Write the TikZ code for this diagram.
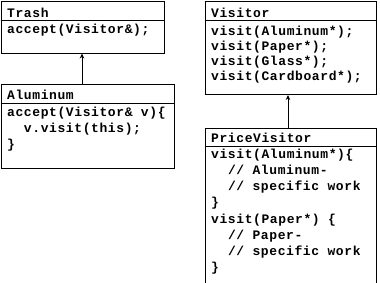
\documentclass[tikz,border=0pt]{standalone}
\usepackage{fontspec}
\newfontfamily\codefont[LetterSpace=4.6]{Liberation Mono}
\usetikzlibrary{arrows.meta}
\begin{document}
\begin{tikzpicture}[x=1pt,y=-1pt,
  classbox/.style={draw=black, line width=1pt, inner sep=0pt, anchor=north west, fill=white},
  code/.style={anchor=base west, inner sep=0pt, font=\codefont\bfseries\fontsize{13}{15}\selectfont},
  inherit/.style={draw=black, line width=1pt, -{Stealth[length=5pt,width=4.5pt]}}]
\useasboundingbox (0,0) rectangle (380,282);
\clip (0,0) rectangle (380,282);
% boxes
\node[classbox, minimum width=163.5pt, minimum height=51.5pt] (trash) at (0.5,1) {};
\node[classbox, minimum width=173.5pt, minimum height=84pt] (alu) at (0.5,83.5) {};
\node[classbox, minimum width=171pt, minimum height=93pt] (visitor) at (205,1) {};
\node[classbox, minimum width=171pt, minimum height=170pt] (price) at (205,127.5) {};
% separators
\coordinate (ts) at (0,20.5);
\coordinate (as) at (0,103);
\coordinate (vs) at (0,20.5);
\coordinate (ps) at (0,146);
\draw[line width=1pt] (trash.west |- ts) -- (trash.east |- ts);
\draw[line width=1pt] (alu.west |- as) -- (alu.east |- as);
\draw[line width=1pt] (visitor.west |- vs) -- (visitor.east |- vs);
\draw[line width=1pt] (price.west |- ps) -- (price.east |- ps);
% Trash texts
\node[code] (trasht) at (7,17) {Trash};
\node[code] (trashb) at (7,33) {accept(Visitor\&);};
% Aluminum texts
\node[code] (alut) at (7,99.5) {Aluminum};
\node[code] (alub1) at (7,116.5) {accept(Visitor\& v)\{};
\node[code] (alub2) at (7,132.3) {\ \ v.visit(this);};
\node[code] (alub3) at (7,148) {\}};
% Visitor texts
\node[code] (vist) at (211,17.5) {Visitor};
\node[code] (visb1) at (211,35.5) {visit(Aluminum*);};
\node[code] (visb2) at (211,50.5) {visit(Paper*);};
\node[code] (visb3) at (211,65.5) {visit(Glass*);};
\node[code] (visb4) at (211,80.2) {visit(Cardboard*);};
% PriceVisitor texts
\node[code] (pvt) at (211,142.5) {PriceVisitor};
\node[code] (pvb1) at (211,158.5) {visit(Aluminum*)\{};
\node[code] (pvb2) at (211,174.5) {\ \ // Aluminum-};
\node[code] (pvb3) at (211,190.5) {\ \ // specific work};
\node[code] (pvb4) at (211,206.5) {\}};
\node[code] (pvb5) at (211,223.5) {visit(Paper*) \{};
\node[code] (pvb6) at (211,239.5) {\ \ // Paper-};
\node[code] (pvb7) at (211,255.5) {\ \ // specific work};
\node[code] (pvb8) at (211,271.5) {\}};
% arrows
\coordinate (a1) at (82,0);
\coordinate (a2) at (288,0);
\draw[inherit] (alu.north -| a1) -- (trash.south -| a1);
\draw[inherit] (price.north -| a2) -- (visitor.south -| a2);
\end{tikzpicture}
\end{document}
